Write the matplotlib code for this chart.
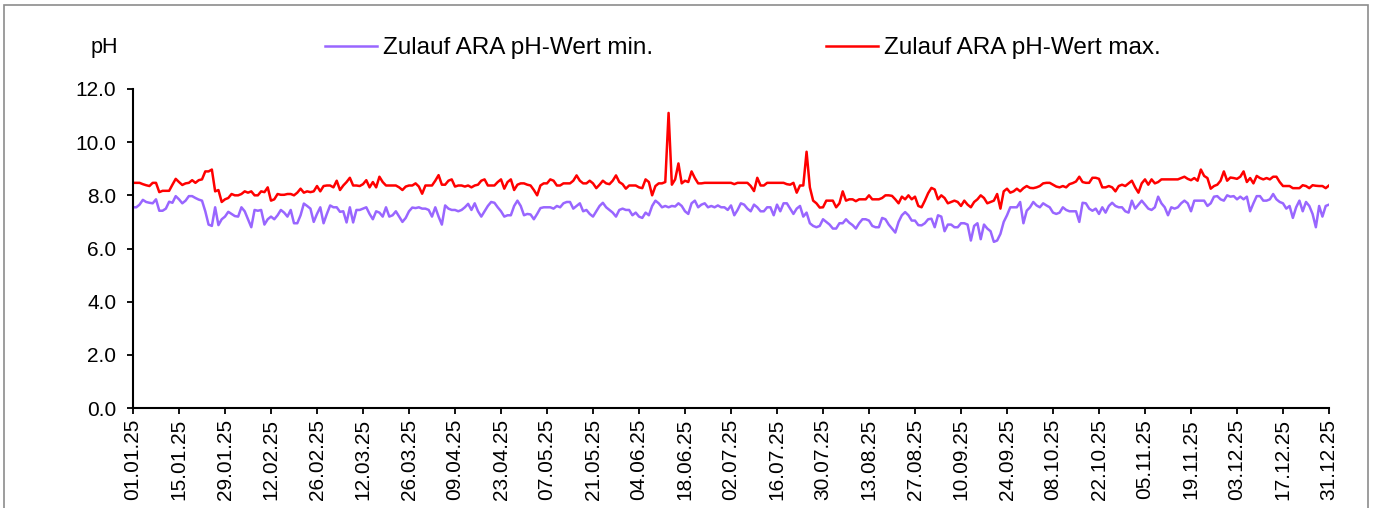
import matplotlib
matplotlib.use("Agg")
import matplotlib.pyplot as plt
from matplotlib.patches import Rectangle
import numpy as np

plt.rcParams['font.family'] = ['Liberation Sans', 'DejaVu Sans']

# Tageswerte 2025 (01.01. - 31.12.)
ph_max = [
    8.47, 8.47, 8.47, 8.42, 8.38, 8.35, 8.47, 8.47, 8.12, 8.17,
    8.17, 8.17, 8.40, 8.62, 8.50, 8.39, 8.45, 8.47, 8.57, 8.47,
    8.57, 8.60, 8.90, 8.90, 8.97, 8.15, 8.20, 7.75, 7.85, 7.90,
    8.05, 8.00, 8.00, 8.05, 8.15, 8.10, 8.15, 8.00, 8.00, 8.15,
    8.12, 8.30, 7.80, 7.85, 8.05, 8.02, 8.02, 8.05, 8.05, 8.00,
    8.10, 8.25, 8.10, 8.15, 8.12, 8.15, 8.35, 8.15, 8.35, 8.37,
    8.37, 8.30, 8.55, 8.20, 8.37, 8.50, 8.66, 8.37, 8.37, 8.35,
    8.42, 8.57, 8.30, 8.50, 8.30, 8.70, 8.50, 8.37, 8.37, 8.37,
    8.37, 8.30, 8.20, 8.33, 8.37, 8.37, 8.45, 8.33, 8.06, 8.37,
    8.37, 8.37, 8.55, 8.76, 8.40, 8.40, 8.55, 8.60, 8.33, 8.37,
    8.37, 8.33, 8.37, 8.30, 8.37, 8.40, 8.55, 8.60, 8.37, 8.37,
    8.37, 8.50, 8.60, 8.25, 8.50, 8.60, 8.20, 8.40, 8.45, 8.45,
    8.40, 8.37, 8.20, 8.00, 8.37, 8.45, 8.45, 8.60, 8.55, 8.37,
    8.37, 8.45, 8.45, 8.45, 8.55, 8.75, 8.55, 8.45, 8.45, 8.55,
    8.45, 8.27, 8.40, 8.55, 8.45, 8.42, 8.55, 8.75, 8.50, 8.42,
    8.25, 8.37, 8.37, 8.37, 8.30, 8.27, 8.60, 8.50, 8.00, 8.35,
    8.45, 8.45, 8.50, 11.10, 8.40, 8.60, 9.20, 8.45, 8.55, 8.50,
    8.90, 8.65, 8.45, 8.45, 8.47, 8.47, 8.47, 8.47, 8.47, 8.47,
    8.47, 8.47, 8.47, 8.42, 8.47, 8.47, 8.47, 8.47, 8.35, 8.16,
    8.66, 8.37, 8.37, 8.47, 8.47, 8.47, 8.47, 8.47, 8.47, 8.42,
    8.40, 8.47, 8.10, 8.37, 8.37, 9.64, 8.30, 7.80, 7.70, 7.54,
    7.55, 7.80, 7.80, 7.80, 7.55, 7.70, 8.15, 7.80, 7.85, 7.85,
    7.78, 7.85, 7.85, 7.85, 8.00, 7.85, 7.85, 7.85, 7.90, 8.00,
    8.00, 7.98, 7.85, 7.70, 7.95, 7.85, 8.00, 7.85, 7.95, 7.60,
    7.55, 7.80, 8.08, 8.28, 8.22, 7.85, 8.00, 7.90, 7.70, 7.75,
    7.80, 7.75, 7.60, 7.80, 7.65, 7.55, 7.75, 7.85, 8.00, 7.90,
    7.70, 7.75, 7.80, 8.05, 7.50, 8.15, 8.25, 8.10, 8.15, 8.25,
    8.15, 8.27, 8.35, 8.28, 8.27, 8.30, 8.35, 8.45, 8.47, 8.47,
    8.40, 8.33, 8.30, 8.35, 8.30, 8.42, 8.46, 8.52, 8.70, 8.50,
    8.47, 8.47, 8.66, 8.66, 8.62, 8.30, 8.30, 8.35, 8.30, 8.15,
    8.35, 8.40, 8.35, 8.45, 8.55, 8.30, 8.10, 8.45, 8.60, 8.40,
    8.60, 8.45, 8.50, 8.60, 8.60, 8.60, 8.60, 8.60, 8.60, 8.65,
    8.70, 8.62, 8.57, 8.65, 8.55, 8.97, 8.73, 8.65, 8.25, 8.35,
    8.40, 8.55, 8.90, 8.55, 8.67, 8.65, 8.62, 8.70, 8.90, 8.50,
    8.65, 8.45, 8.73, 8.65, 8.60, 8.65, 8.60, 8.70, 8.70, 8.50,
    8.35, 8.35, 8.35, 8.27, 8.27, 8.27, 8.38, 8.35, 8.27, 8.38,
    8.36, 8.35, 8.35, 8.27, 8.37,
]

ph_min = [
    7.55, 7.55, 7.65, 7.83, 7.75, 7.72, 7.70, 7.85, 7.42, 7.42,
    7.50, 7.76, 7.72, 7.97, 7.85, 7.70, 7.80, 7.97, 7.97, 7.90,
    7.84, 7.80, 7.40, 6.90, 6.85, 7.55, 6.88, 7.10, 7.20, 7.38,
    7.30, 7.22, 7.20, 7.55, 7.40, 7.10, 6.80, 7.45, 7.42, 7.45,
    6.90, 7.10, 7.20, 7.10, 7.25, 7.45, 7.35, 7.20, 7.45, 6.95,
    6.95, 7.25, 7.69, 7.60, 7.50, 7.00, 7.30, 7.55, 6.95, 7.30,
    7.62, 7.55, 7.55, 7.38, 7.40, 6.98, 7.55, 6.98, 7.45, 7.45,
    7.50, 7.55, 7.30, 7.10, 7.40, 7.35, 7.20, 7.55, 7.20, 7.25,
    7.40, 7.20, 7.00, 7.15, 7.40, 7.54, 7.52, 7.55, 7.50, 7.50,
    7.45, 7.20, 7.55, 7.20, 6.90, 7.62, 7.50, 7.45, 7.45, 7.40,
    7.45, 7.55, 7.68, 7.45, 7.70, 7.40, 7.20, 7.40, 7.60, 7.75,
    7.72, 7.55, 7.40, 7.20, 7.25, 7.25, 7.60, 7.80, 7.60, 7.25,
    7.30, 7.28, 7.10, 7.30, 7.52, 7.55, 7.55, 7.55, 7.50, 7.60,
    7.55, 7.70, 7.75, 7.75, 7.50, 7.60, 7.70, 7.40, 7.45, 7.30,
    7.20, 7.40, 7.60, 7.72, 7.55, 7.45, 7.35, 7.20, 7.45, 7.50,
    7.45, 7.45, 7.25, 7.35, 7.20, 7.15, 7.35, 7.25, 7.60, 7.80,
    7.70, 7.55, 7.60, 7.55, 7.60, 7.58, 7.70, 7.60, 7.40, 7.30,
    7.70, 7.80, 7.55, 7.65, 7.70, 7.55, 7.60, 7.55, 7.62, 7.55,
    7.55, 7.45, 7.62, 7.25, 7.45, 7.70, 7.65, 7.50, 7.40, 7.65,
    7.55, 7.40, 7.40, 7.55, 7.55, 7.25, 7.65, 7.40, 7.70, 7.70,
    7.50, 7.30, 7.50, 7.60, 7.20, 7.35, 6.95, 6.85, 6.80, 6.85,
    7.10, 7.00, 6.90, 6.75, 6.75, 6.95, 6.95, 7.10, 6.97, 6.88,
    6.75, 6.95, 7.10, 7.10, 7.05, 6.85, 6.80, 6.80, 7.15, 7.10,
    6.90, 6.75, 6.60, 7.00, 7.25, 7.37, 7.25, 7.05, 7.05, 6.88,
    6.87, 6.95, 7.10, 7.12, 6.80, 7.25, 7.20, 6.65, 6.90, 6.90,
    6.80, 6.80, 6.95, 6.95, 6.90, 6.30, 6.85, 6.95, 6.35, 6.90,
    6.75, 6.65, 6.25, 6.30, 6.55, 7.00, 7.25, 7.55, 7.55, 7.55,
    7.75, 6.95, 7.42, 7.55, 7.75, 7.62, 7.55, 7.70, 7.62, 7.55,
    7.35, 7.30, 7.35, 7.55, 7.45, 7.40, 7.40, 7.40, 7.00, 7.72,
    7.70, 7.50, 7.42, 7.50, 7.30, 7.55, 7.35, 7.60, 7.72, 7.60,
    7.55, 7.55, 7.40, 7.35, 7.80, 7.50, 7.65, 7.80, 7.65, 7.50,
    7.45, 7.55, 7.95, 7.70, 7.55, 7.25, 7.55, 7.50, 7.55, 7.70,
    7.80, 7.70, 7.40, 7.80, 7.80, 7.80, 7.80, 7.60, 7.70, 7.95,
    7.97, 7.85, 7.80, 8.00, 7.95, 7.97, 7.85, 7.95, 7.85, 7.95,
    7.40, 7.70, 7.97, 7.97, 7.80, 7.80, 7.85, 8.05, 7.85, 7.75,
    7.70, 7.50, 7.60, 7.15, 7.55, 7.80, 7.40, 7.75, 7.60, 7.30,
    6.80, 7.60, 7.20, 7.60, 7.65,
]

tick_days = [0, 14, 28, 42, 56, 70, 84, 98, 112, 126, 140, 154, 168, 182,
             196, 210, 224, 238, 252, 266, 280, 294, 308, 322, 336, 350, 364]
tick_labels = ['01.01.25', '15.01.25', '29.01.25', '12.02.25', '26.02.25',
               '12.03.25', '26.03.25', '09.04.25', '23.04.25', '07.05.25',
               '21.05.25', '04.06.25', '18.06.25', '02.07.25', '16.07.25',
               '30.07.25', '13.08.25', '27.08.25', '10.09.25', '24.09.25',
               '08.10.25', '22.10.25', '05.11.25', '19.11.25', '03.12.25',
               '17.12.25', '31.12.25']

days = np.arange(len(ph_min))

W, H = 1377, 508
fig = plt.figure(figsize=(W / 100, H / 100), dpi=100)
ax = fig.add_axes([133 / W, 1 - 408 / H, 1196 / W, 319 / H])

ax.plot(days, ph_min, color='#9966FF', lw=1.8, label='Zulauf ARA pH-Wert min.')
ax.plot(days, ph_max, color='#FF0000', lw=1.8, label='Zulauf ARA pH-Wert max.')

ax.set_xlim(0, 364)
ax.set_ylim(0, 12)
ax.set_yticks(np.arange(0, 12.1, 2))
ax.set_yticklabels(['%.1f' % v for v in np.arange(0, 12.1, 2)])
ax.set_xticks(tick_days)
ax.set_xticklabels(tick_labels, rotation=90)
ax.tick_params(axis='both', direction='out', length=4, width=1.3,
               labelsize=15, colors='black')
ax.tick_params(axis='y', pad=8)
ax.tick_params(axis='x', pad=4)
for s in ['top', 'right']:
    ax.spines[s].set_visible(False)
for s in ['left', 'bottom']:
    ax.spines[s].set_linewidth(1.5)

fig.text(104 / W, 1 - 48 / H, 'pH', fontsize=15.5, ha='center', va='center')

fig.legend(loc='center left', bbox_to_anchor=(325 / W, 1 - 48 / H), ncol=2,
           frameon=False, fontsize=17.5, handlelength=2.15, handletextpad=0.25,
           columnspacing=7.1, borderpad=0, borderaxespad=0)

# grauer Rahmen um die Grafik
fig.patches.append(Rectangle((4 / W, -0.05), 1364 / W, 1.05 - 5 / H,
                             transform=fig.transFigure, fill=False,
                             edgecolor='#8c8c8c', lw=1.2))

fig.savefig('out.png', dpi=100)
